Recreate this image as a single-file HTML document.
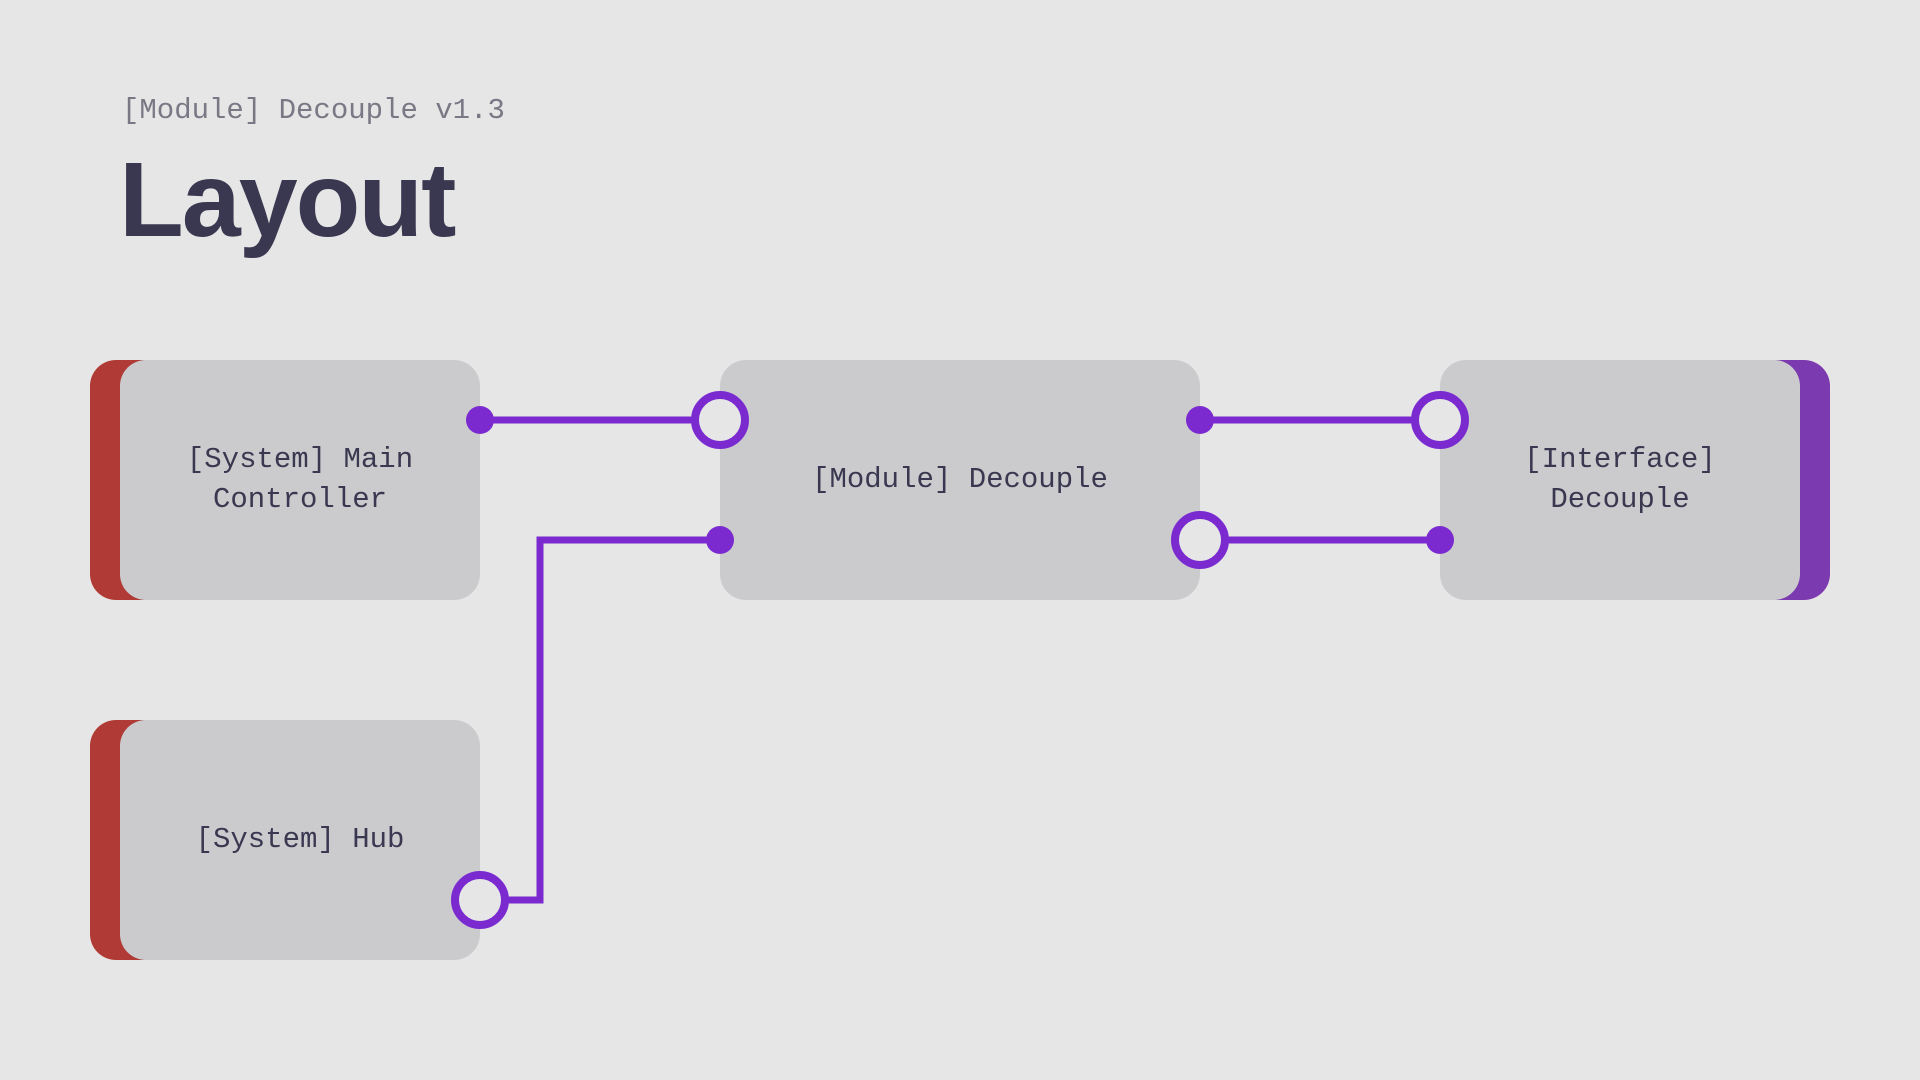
<!DOCTYPE html>
<html><head><meta charset="utf-8"><style>
html,body{margin:0;padding:0;}
body{width:1920px;height:1080px;background:#e6e6e6;position:relative;overflow:hidden;font-family:"Liberation Sans",sans-serif;}
.sub{position:absolute;left:122px;top:94px;font-family:"Liberation Mono",monospace;font-size:29px;color:#7a7885;}
.title{position:absolute;left:119px;top:140px;font-size:106px;font-weight:bold;color:#3a3850;letter-spacing:-2px;}
.box{position:absolute;background:#cbcbcd;border-radius:26px;display:flex;align-items:center;justify-content:center;text-align:center;font-family:"Liberation Mono",monospace;font-size:29px;line-height:40px;color:#3a3850;}
.tab{position:absolute;border-radius:26px;}
</style></head><body>
<div class="sub">[Module] Decouple v1.3</div>
<div class="title">Layout</div>

<div class="tab" style="left:90px;top:360px;width:100px;height:240px;background:#b03a35"></div>
<div class="box" style="left:120px;top:360px;width:360px;height:240px;">[System] Main<br>Controller</div>

<div class="tab" style="left:90px;top:720px;width:100px;height:240px;background:#b03a35"></div>
<div class="box" style="left:120px;top:720px;width:360px;height:240px;">[System] Hub</div>

<div class="box" style="left:720px;top:360px;width:480px;height:240px;">[Module] Decouple</div>

<div class="tab" style="left:1730px;top:360px;width:100px;height:240px;background:#7b3ab0"></div>
<div class="box" style="left:1440px;top:360px;width:360px;height:240px;">[Interface]<br>Decouple</div>

<svg width="1920" height="1080" style="position:absolute;left:0;top:0" fill="none" stroke="#7b2ad0" stroke-width="7">
<line x1="480" y1="420" x2="700" y2="420"/>
<circle cx="480" cy="420" r="14" fill="#7b2ad0" stroke="none"/>
<circle cx="720" cy="420" r="25" fill="#e6e6e6" stroke-width="8"/>
<polyline points="500,900 540,900 540,540 720,540"/>
<circle cx="720" cy="540" r="14" fill="#7b2ad0" stroke="none"/>
<circle cx="480" cy="900" r="25" fill="#e6e6e6" stroke-width="8"/>
<line x1="1200" y1="420" x2="1420" y2="420"/>
<circle cx="1200" cy="420" r="14" fill="#7b2ad0" stroke="none"/>
<circle cx="1440" cy="420" r="25" fill="#e6e6e6" stroke-width="8"/>
<line x1="1220" y1="540" x2="1440" y2="540"/>
<circle cx="1440" cy="540" r="14" fill="#7b2ad0" stroke="none"/>
<circle cx="1200" cy="540" r="25" fill="#e6e6e6" stroke-width="8"/>
</svg>
</body></html>
